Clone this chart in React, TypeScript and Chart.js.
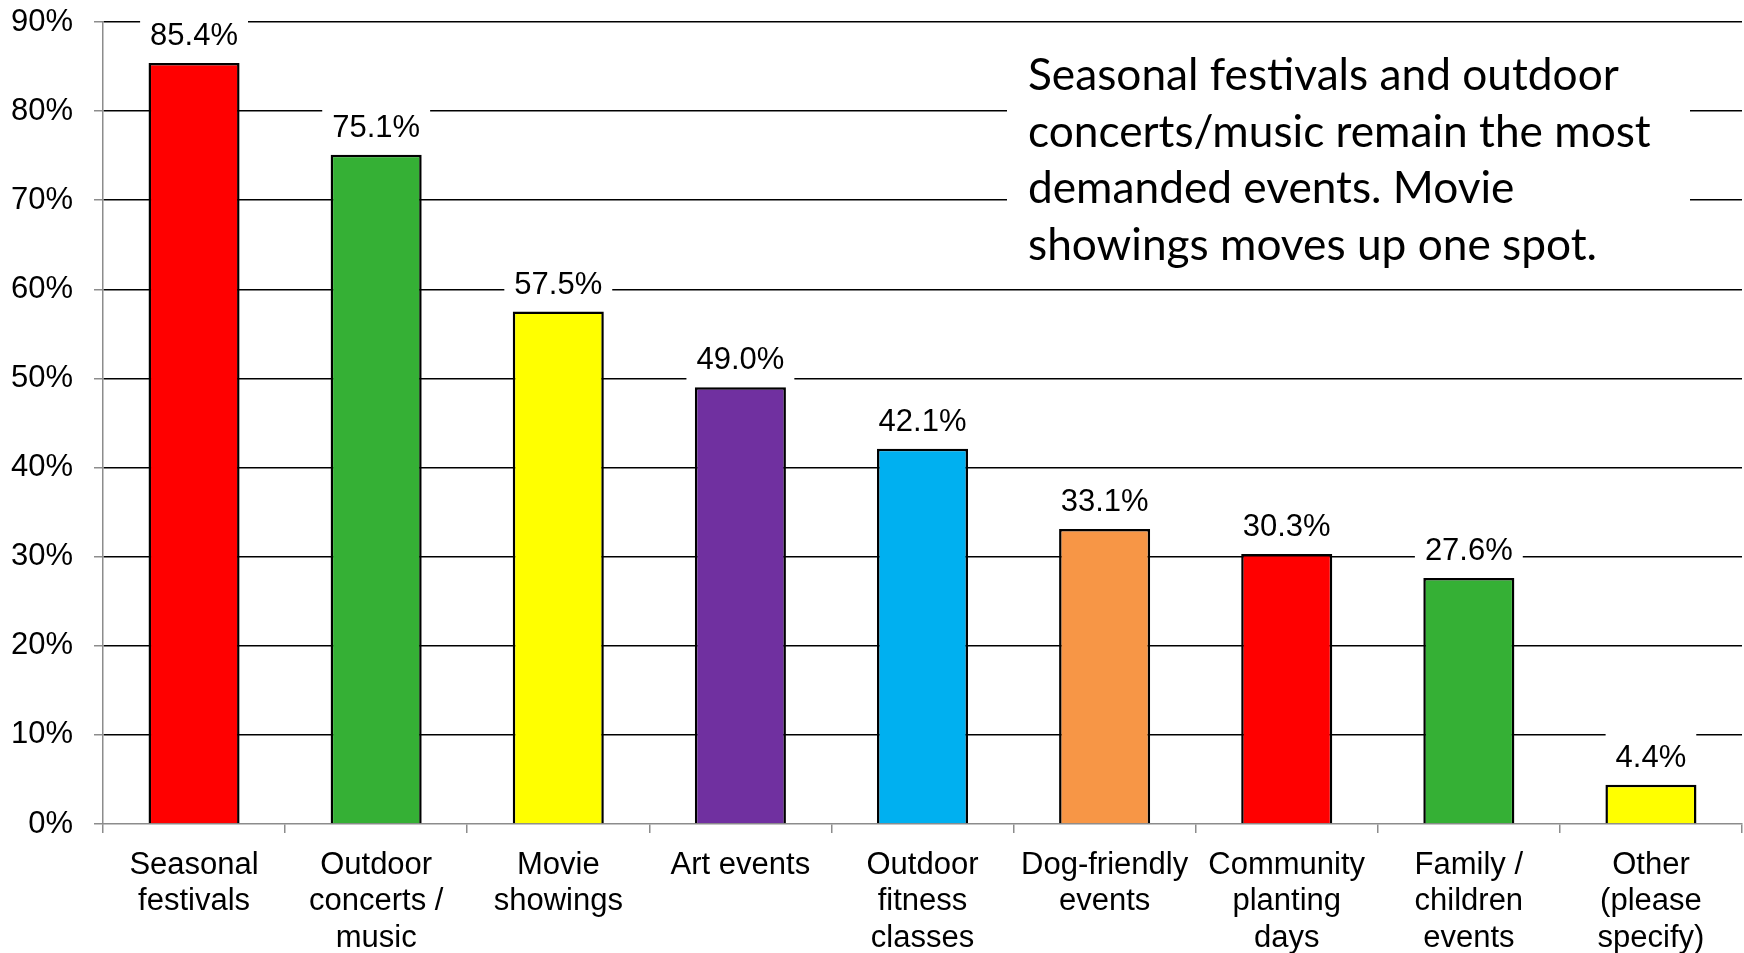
import React, { useEffect, useRef } from "react";
import { Chart, registerables } from "chart.js";

Chart.register(...registerables);

const categories: string[][] = [
  ["Seasonal", "festivals"],
  ["Outdoor", "concerts /", "music"],
  ["Movie", "showings"],
  ["Art events"],
  ["Outdoor", "fitness", "classes"],
  ["Dog-friendly", "events"],
  ["Community", "planting", "days"],
  ["Family /", "children", "events"],
  ["Other", "(please", "specify)"],
];

const values: number[] = [85.4, 75.1, 57.5, 49.0, 42.1, 33.1, 30.3, 27.6, 4.4];

const barColors: string[] = [
  "#FF0000",
  "#35B035",
  "#FFFF00",
  "#7030A0",
  "#00B0F0",
  "#F79646",
  "#FF0000",
  "#35B035",
  "#FFFF00",
];

const yTicks: number[] = [0, 10, 20, 30, 40, 50, 60, 70, 80, 90];

const noteLines: string[] = [
  "Seasonal festivals and outdoor",
  "concerts/music remain the most",
  "demanded events. Movie",
  "showings moves up one spot.",
];

const LABEL_FONT = '"Liberation Sans", Arial, sans-serif';
const NOTE_FONT = 'Lato, "Open Sans", sans-serif';

const valueLabelPlugin = {
  id: "valueLabels",
  afterDatasetsDraw(chart: any) {
    const ctx = chart.ctx;
    const meta = chart.getDatasetMeta(0);
    ctx.save();
    ctx.font = `31px ${LABEL_FONT}`;
    ctx.textAlign = "center";
    ctx.textBaseline = "alphabetic";
    meta.data.forEach((el: any, i: number) => {
      const txt = values[i].toFixed(1) + "%";
      const w = ctx.measureText(txt).width;
      const base = el.y - 18;
      ctx.fillStyle = "#FFFFFF";
      ctx.fillRect(el.x - w / 2 - 10, base - 34, w + 20, 47);
      ctx.fillStyle = "#000000";
      ctx.fillText(txt, el.x, base);
    });
    ctx.restore();
  },
};

const notePlugin = {
  id: "noteBox",
  afterDraw(chart: any) {
    const ctx = chart.ctx;
    const left = 1007;
    const right = 1690;
    const top = 38;
    const bottom = 276;
    ctx.save();
    ctx.fillStyle = "#FFFFFF";
    ctx.fillRect(left, top, right - left, bottom - top);
    let size = 44;
    ctx.font = `${size}px ${NOTE_FONT}`;
    const w = ctx.measureText(noteLines[0]).width;
    size = (size * 591) / w;
    ctx.font = `${size}px ${NOTE_FONT}`;
    ctx.fillStyle = "#000000";
    ctx.textAlign = "left";
    ctx.textBaseline = "alphabetic";
    const baselines = [90, 147, 203, 260];
    noteLines.forEach((line, i) => {
      ctx.fillText(line, 1028, baselines[i]);
    });
    ctx.restore();
  },
};

export default function App() {
  const canvasRef = useRef<HTMLCanvasElement | null>(null);

  useEffect(() => {
    document.body.style.margin = "0";
    const canvas = canvasRef.current;
    if (!canvas) return;
    const gray = "#8C8C8C";
    const chart = new Chart(canvas, {
      type: "bar",
      data: {
        labels: categories,
        datasets: [
          {
            data: values,
            backgroundColor: barColors,
            borderColor: "#000000",
            borderWidth: 2.5,
            categoryPercentage: 1,
            barPercentage: 0.5,
          },
        ],
      },
      options: {
        animation: false,
        responsive: false,
        devicePixelRatio: 1,
        layout: { autoPadding: false, padding: { top: 22, right: 2, left: 0, bottom: 0 } },
        plugins: {
          legend: { display: false },
          tooltip: { enabled: false },
        },
        scales: {
          x: {
            offset: true,
            grid: {
              offset: true,
              drawOnChartArea: false,
              drawTicks: true,
              tickLength: 9,
              color: gray,
              lineWidth: 1.5,
            },
            border: { display: true, color: gray, width: 1.5 },
            ticks: {
              color: "#000000",
              font: { family: LABEL_FONT, size: 31, lineHeight: 1.18 },
              maxRotation: 0,
              minRotation: 0,
              autoSkip: false,
              padding: 14,
            },
            afterFit(scale: any) {
              scale.height = 129;
              scale.paddingLeft = 0;
              scale.paddingRight = 0;
            },
          },
          y: {
            min: 0,
            max: 90,
            afterBuildTicks(scale: any) {
              scale.ticks = yTicks.map((v) => ({ value: v }));
            },
            grid: {
              color: (c: any) => (c.tick && c.tick.value === 0 ? "rgba(0,0,0,0)" : "#000000"),
              tickColor: gray,
              lineWidth: 1.5,
              tickLength: 9,
              drawTicks: true,
            },
            border: { display: true, color: gray, width: 1.5 },
            ticks: {
              color: "#000000",
              font: { family: LABEL_FONT, size: 31 },
              padding: 21,
              callback: (v: any) => v + "%",
            },
            afterFit(scale: any) {
              scale.width = 103;
              scale.paddingTop = 0;
              scale.paddingBottom = 0;
            },
          },
        },
      },
      plugins: [valueLabelPlugin, notePlugin],
    });
    return () => chart.destroy();
  }, []);

  return (
    <canvas
      ref={canvasRef}
      width={1744}
      height={953}
      style={{ display: "block", width: "1744px", height: "953px" }}
    />
  );
}
